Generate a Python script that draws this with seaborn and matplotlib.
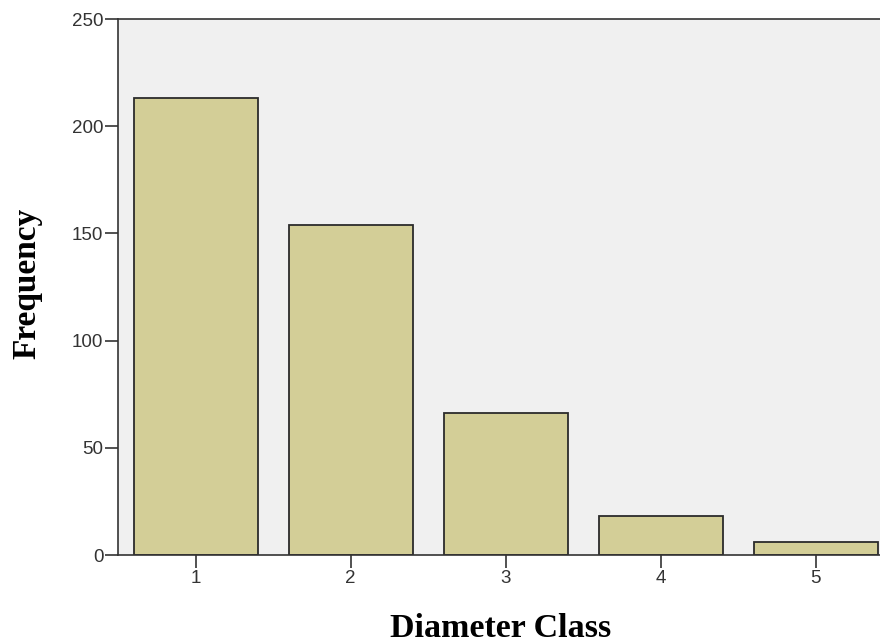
import pandas as pd
import matplotlib
matplotlib.use("Agg")
import matplotlib.pyplot as plt
import seaborn as sns

# datos
clases = ["1", "2", "3", "4", "5"]
frecuencias = [213, 154, 66, 18, 6]

df = pd.DataFrame({"clase": clases, "frecuencia": frecuencias})

sns.set_style("ticks")
plt.rcParams["font.family"] = ["Liberation Sans", "DejaVu Sans"]

fig = plt.figure(figsize=(8.8, 6.44), dpi=100)
# el área del gráfico se sale un poco por la derecha, como en el original
ax = fig.add_axes([118 / 880, (644 - 555) / 644, 775 / 880, 536 / 644])
ax.set_facecolor("#f0f0f0")

sns.barplot(data=df, x="clase", y="frecuencia", color="#d3ce97",
            saturation=1, width=0.8, edgecolor="#2b2b2b", linewidth=1.3, ax=ax)

ax.set_xlim(-0.5, 4.5)
ax.set_ylim(0, 250)
ax.set_yticks([0, 50, 100, 150, 200, 250])
for s in ["left", "bottom", "top", "right"]:
    ax.spines[s].set_color("#333333")
    ax.spines[s].set_linewidth(1.2)
ax.tick_params(axis="both", width=1.2, color="#333333",
               labelsize=13.5, labelcolor="#333333")
ax.tick_params(axis="y", length=9.5, pad=1)
ax.tick_params(axis="x", length=9, pad=2)

ax.set_xlabel("Diameter Class", family="Liberation Serif", fontweight="bold",
              fontsize=24.5, va="baseline", color="black")
ax.set_ylabel("Frequency", family="Liberation Serif", fontweight="bold",
              fontsize=24, color="black")
ax.xaxis.set_label_coords(383 / 775, -82 / 536)
ax.yaxis.set_label_coords(-76 / 775, 272 / 536)

fig.savefig("out.png", dpi=100, facecolor="white")
